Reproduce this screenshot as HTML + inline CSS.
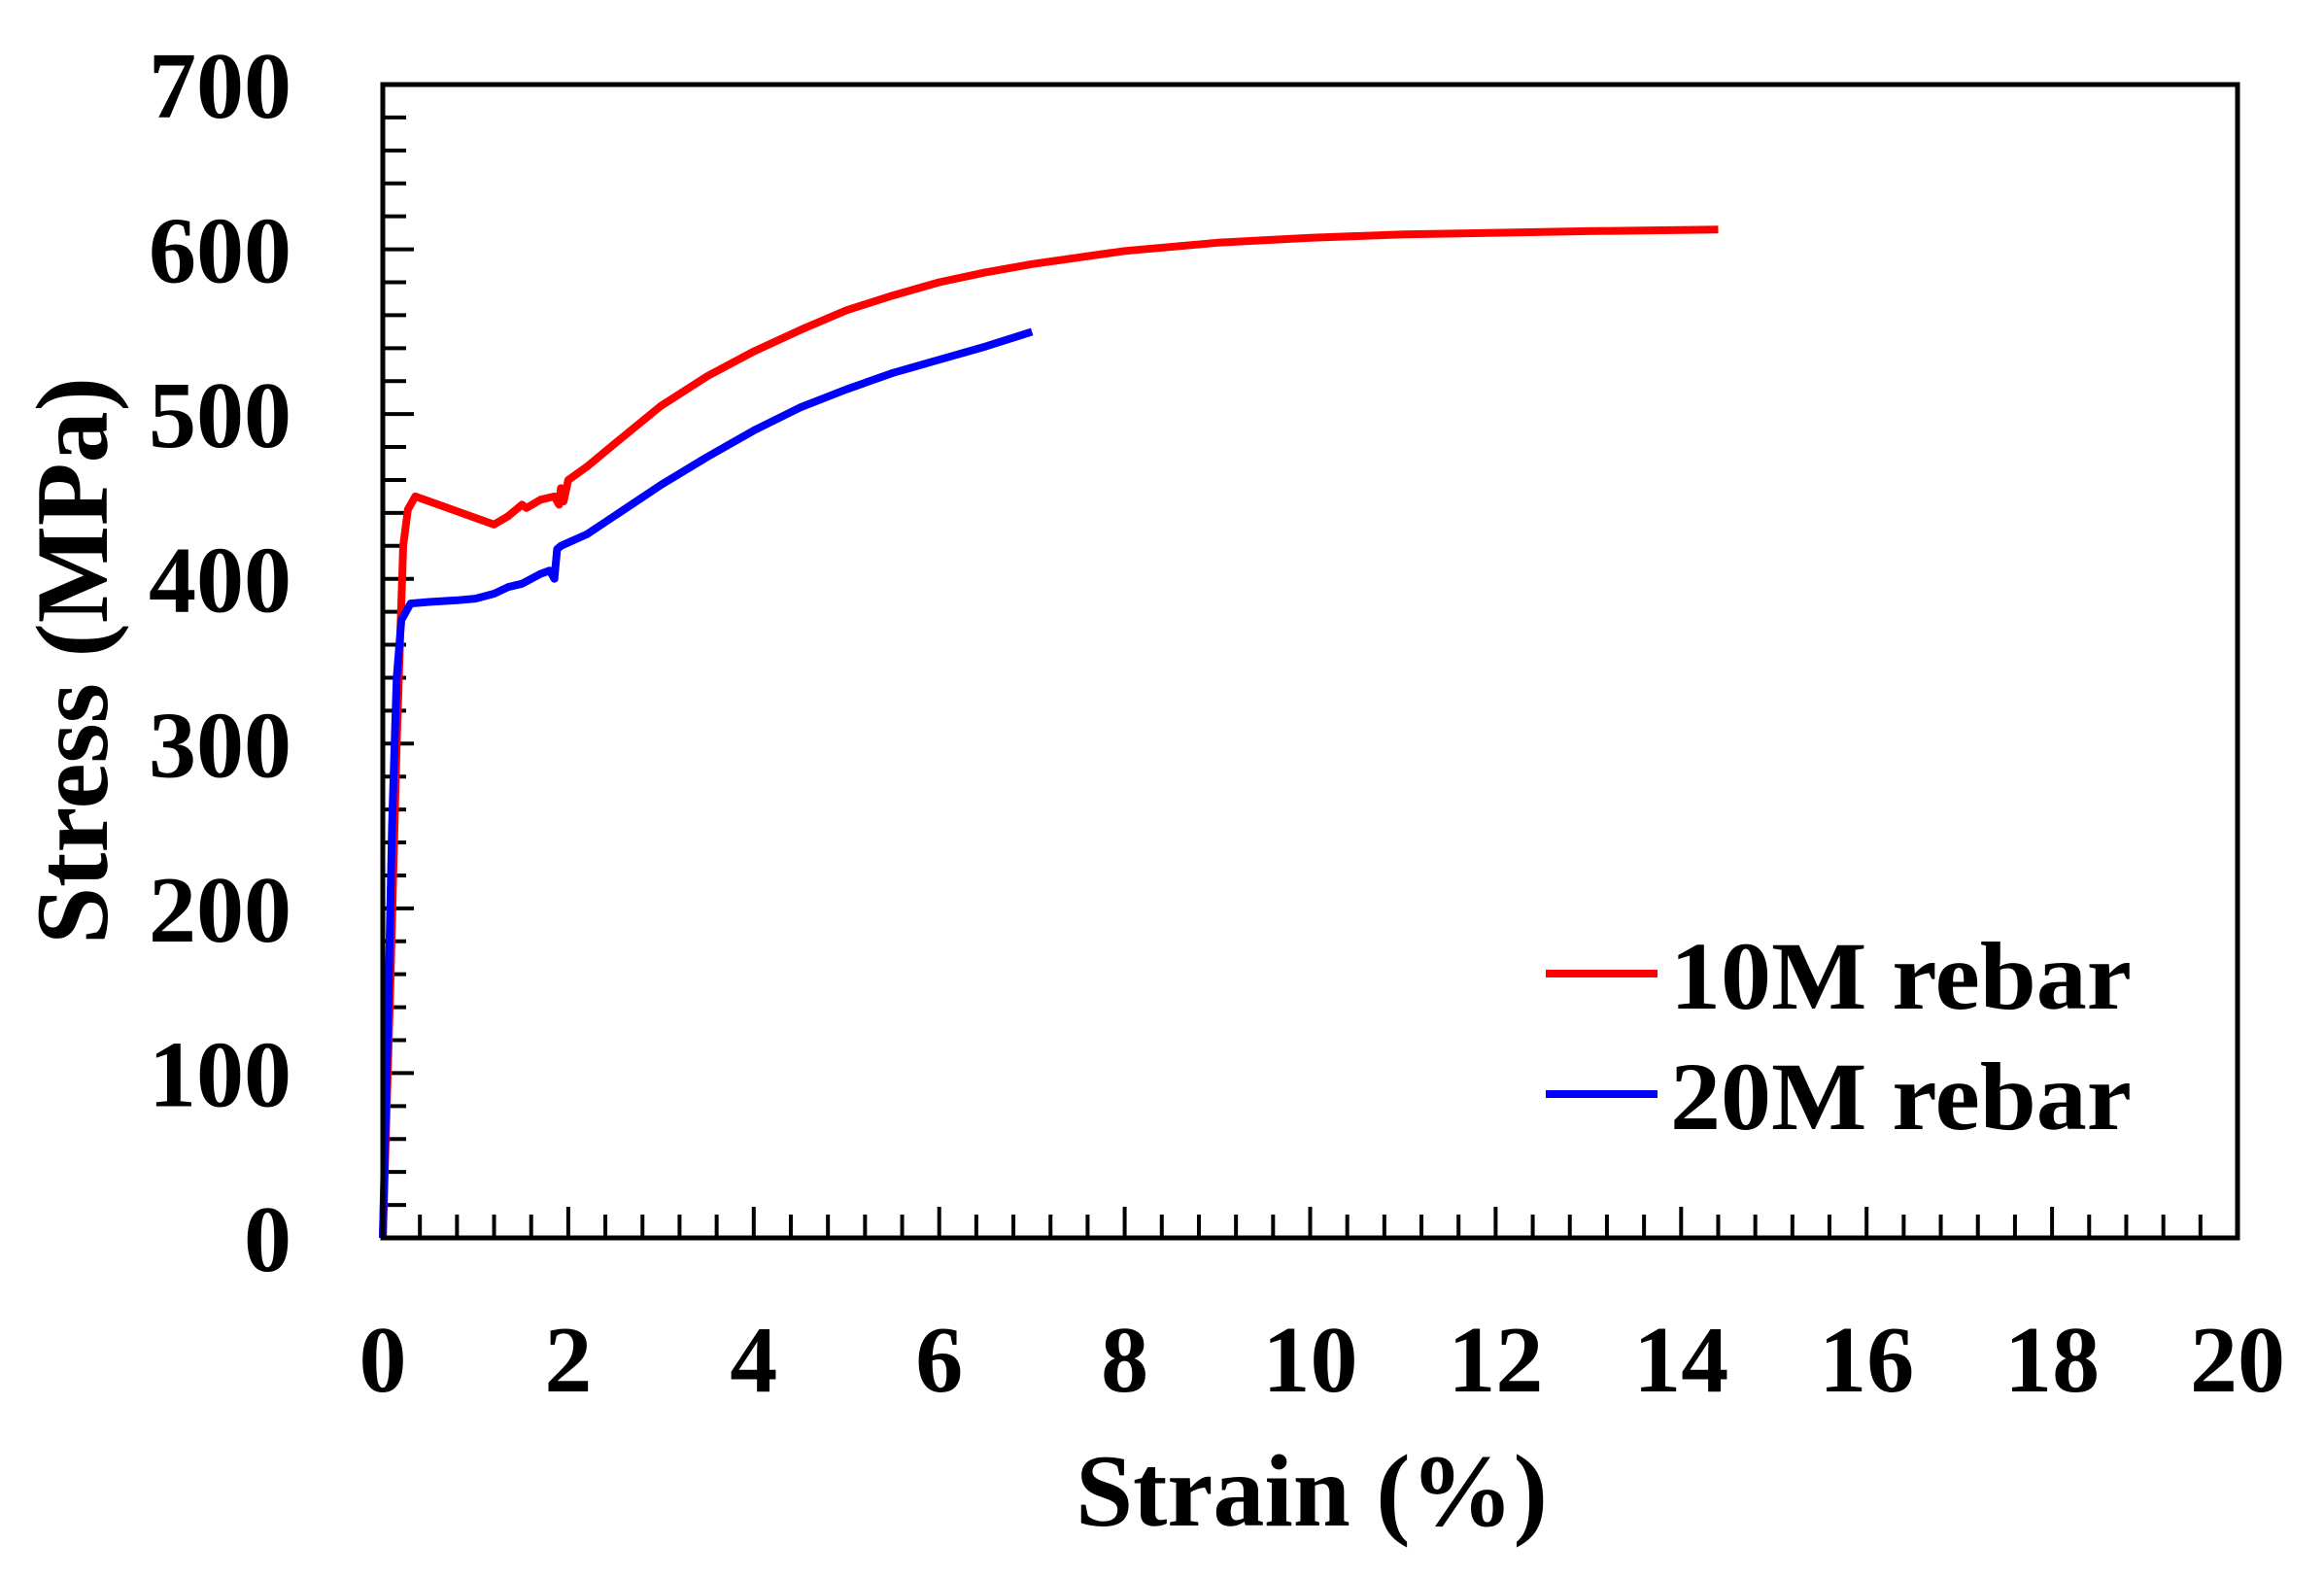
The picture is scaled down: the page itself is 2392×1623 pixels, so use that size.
<!DOCTYPE html>
<html><head><meta charset="utf-8"><style>
html,body{margin:0;padding:0;background:#fff;}
svg{display:block;font-family:"Liberation Serif",serif;font-weight:bold;}
</style></head><body>
<svg id="chart" width="2392" height="1623" viewBox="0 0 2392 1623" xmlns="http://www.w3.org/2000/svg">
<rect x="0" y="0" width="2392" height="1623" fill="#fff"/>
<g id="ticks"></g>
<g id="series"></g>
<rect x="394" y="87" width="1909" height="1187" fill="none" stroke="#000" stroke-width="5"/>
<text x="1350" y="1570" font-size="106" text-anchor="middle">Strain (%)</text>
<text transform="translate(110,680) rotate(-90)" font-size="106" text-anchor="middle">Stress (MPa)</text>
<g>
<line x1="1591" y1="1002" x2="1706" y2="1002" stroke="#ff0000" stroke-width="8"/>
<text x="1719" y="1038" font-size="100" textLength="475" lengthAdjust="spacingAndGlyphs">10M rebar</text>
<line x1="1591" y1="1126" x2="1706" y2="1126" stroke="#0000ff" stroke-width="8"/>
<text x="1719" y="1162" font-size="100" textLength="475" lengthAdjust="spacingAndGlyphs">20M rebar</text>
</g>
</svg>
<script>
const xTicks = [0,2,4,6,8,10,12,14,16,18,20];
const yTicks = [0,100,200,300,400,500,600,700];
const strain10M = [0,0.08,0.15,0.22,0.27,0.35,0.6,0.9,1.2,1.35,1.5,1.55,1.7,1.85,1.9,1.92,1.95,2.0,2.2,2.5,3,3.5,4,4.5,5,5.5,6,6.5,7,8,9,10,11,12,13,14.4];
const stress10M = [0,150,300,420,442,450,445,439,433,438,445,443,448,450,445,455,447,460,468,482,505,523,538,551,563,572,580,586,591,599,604,607,609,610,611,612];
const strain20M = [0,0.05,0.1,0.15,0.2,0.3,0.5,0.8,1.0,1.2,1.35,1.5,1.7,1.8,1.85,1.88,1.92,2.2,2.6,3,3.5,4,4.5,5,5.5,6,6.5,7];
const stress20M = [0,120,250,340,375,385,386,387,388,391,395,397,403,405,400,418,420,427,442,457,474,490,504,515,525,533,541,550];
const X0=394,X1=2303,Y0=1274,Y1=87;
const sx=v=>X0+(v-0)/(20-0)*(X1-X0);
const sy=v=>Y0-(v-0)/(700-0)*(Y0-Y1);
const NS="http://www.w3.org/2000/svg";
const tg=document.getElementById('ticks');
function mk(tag,attrs,parent){const e=document.createElementNS(NS,tag);for(const k in attrs)e.setAttribute(k,attrs[k]);parent.appendChild(e);return e;}
for(let v=0;v<=700;v+=20){
  const major=v%100===0;
  const t=mk('line',{x1:X0,x2:X0+(major?32:24),y1:sy(v),y2:sy(v),stroke:'#000','stroke-width':4},tg);
  
  
}
for(let v=0.4;v<20;v+=0.4){
  const major=Math.abs(v/2-Math.round(v/2))<1e-6;
  const t=mk('line',{x1:sx(v),x2:sx(v),y1:Y0,y2:Y0-(major?32:24),stroke:'#000','stroke-width':4},tg);
  
  
}
yTicks.forEach(v=>{
  const t=mk('text',{x:300,y:sy(v)+34,'font-size':98,'text-anchor':'end'},tg);
  t.textContent=v;
  
  
});
xTicks.forEach(v=>{
  const t=mk('text',{x:sx(v),y:1432,'font-size':98,'text-anchor':'middle'},tg);
  t.textContent=v;
  
  
});
const sg=document.getElementById('series');
function line(xs,ys,color,name){
  const d=xs.map((x,i)=>(i?'L':'M')+sx(x).toFixed(1)+' '+sy(ys[i]).toFixed(1)).join(' ');
  const p=mk('path',{d:d,fill:'none',stroke:color,'stroke-width':8,'stroke-linejoin':'round'},sg);
  
  
}
line(strain10M,stress10M,'#ff0000','series-10m-rebar');
line(strain20M,stress20M,'#0000ff','series-20m-rebar');
</script>
</body></html>
